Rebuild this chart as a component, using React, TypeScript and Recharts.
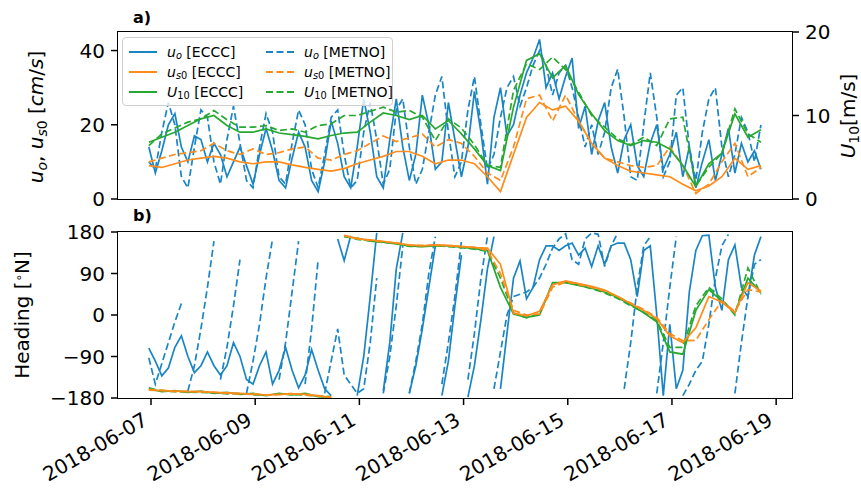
import React from 'react';
import { LineChart, Line, XAxis, YAxis } from 'recharts';

// hours since 2018-06-07 00:00; blue series every 3 h, smooth ones every 6 h
const T3_START = -1;
const T6_START = -1;

const DATE_LABELS = ['2018-06-07', '2018-06-09', '2018-06-11', '2018-06-13', '2018-06-15', '2018-06-17', '2018-06-19'];
const X_TICKS = [0, 48, 96, 144, 192, 240, 288];

// panel a) — current speed [cm/s]
const UO_ECCC = [
  14, 7, 13, 20, 23, 14, 10, 17,
  16, 10, 15, 12, 6, 10, 14, 9,
  4, 12, 19, 13, 5, 3, 11, 18,
  14, 5, 2, 10, 21, 15, 6, 3,
  14, 27, 18, 6, 3, 16, 27, 14,
  5, 12, 28, 20, 8, 10, 26, 16,
  6, 14, 29, 18, 4, 22, 30, 17,
  20, 28, 34, 38, 43, 30, 34, 27,
  33, 38, 19, 25, 12, 21, 26, 14,
  7, 16, 20, 9, 6, 15, 20, 8,
  12, 18, 6, 14, 3, 10, 16, 5,
  12, 19, 7, 15, 10, 13, 8,
];
const UO_METNO = [
  10, 8, 18, 26, 20, 6, 3, 14,
  24, 22, 10, 4, 16, 25, 15, 5,
  3, 14, 23, 18, 6, 4, 15, 24,
  20, 8, 3, 12, 22, 24, 12, 3,
  5, 18, 26, 16, 4, 8, 24, 27,
  14, 4, 8, 18, 28, 33, 18, 6,
  10, 24, 33, 20, 8, 12, 22, 30,
  33, 25, 30, 36, 40, 36, 28, 34,
  36, 30, 22, 14, 20, 12, 18, 30,
  35, 22, 6, 5, 20, 34, 22, 6,
  10, 28, 30, 14, 5, 18, 27, 30,
  14, 6, 12, 22, 18, 10, 20,
];
const US0_ECCC = [
  9, 8.5, 9.5, 10.5, 11, 11.5, 11, 10, 9.5, 10, 10, 9.2,
  8.5, 8, 7.5, 8.2, 9.5, 10.5, 11.5, 12.8, 12.8, 11.5, 9.5, 10.5,
  10.5, 9.5, 6, 2, 12, 22, 26, 24, 25, 21, 15, 11,
  9, 7.5, 7, 6.5, 6, 4, 2.2, 3.5, 6, 11, 8, 9,
];
const US0_METNO = [
  10, 11, 12, 12.5, 13, 15, 13, 12, 13.5, 12, 12.5, 13.5,
  14, 11, 10.5, 12, 13, 15, 17, 15.5, 16.5, 17.5, 14, 16,
  15, 11.5, 7, 5, 14, 27, 28, 21, 28, 21, 15, 11,
  10, 9, 8.5, 9, 14, 9, 1.5, 4, 10, 15, 6, 8.5,
];
// wind speed [m/s]
const U10_ECCC = [
  6.8, 7.4, 8, 8.8, 9.6, 10, 8.8, 8, 8, 8.4, 7.9, 7.7,
  7.5, 7.2, 7.6, 7.9, 8, 9.2, 10.3, 10, 9.5, 10, 8.4, 9.4,
  7.8, 6, 4, 3.4, 11, 16.6, 17.4, 14.5, 16, 12.5, 10.2, 8.2,
  7, 6.4, 7, 6.8, 6, 4, 1.5, 4.2, 5.5, 10.2, 7.4, 8.3,
];
const U10_METNO = [
  6.4, 7.8, 8.5, 9.2, 9.6, 10.6, 9.5, 8.6, 8.6, 8.8, 8.2, 8.4,
  8, 8.8, 9, 10, 10, 10.5, 11, 10.4, 10.6, 9.8, 7, 9.6,
  8.5, 6.5, 4, 3.8, 13, 16.2, 15.5, 17, 15.5, 12.8, 10, 8.6,
  7.2, 6.5, 7.4, 6.4, 9.6, 9.8, 1.6, 3.8, 5.5, 10.8, 7.8, 6.8,
];

// panel b) — heading [deg N]
const HD_UO_ECCC = [
  -72, -100, -132, -115, -70, -45, -90, -125,
  -110, -80, -110, -130, -110, -60, -90, -140,
  -150, -110, -80, -150, -120, -70, -120, -158,
  -130, -75, -120, -160, -175, 165, 118, 172,
  -175, -90, 40, 178, -165, -60, 100, 178,
  -170, -110, -30, 60, 150, -175, -100, 20,
  130, -178, -110, -10, 100, 170, -160, -40,
  80, 117, 35, 60, 120, 150, 150, 140,
  150, 156, 130, 145, 105, 150, 110, 150,
  156, 156, 120, 40, 140, 150, 0, -175,
  -20, -160, -120, 50, 140, 172, 173, 60,
  10, 120, 152, 60, 40, 130, 170,
];
const HD_UO_METNO = [
  -93, -150, -105, -60, -15, 25, -165, -110,
  -30, 60, 160, -140, -70, 20, 120, -170,
  -100, -20, 80, 165, -140, -60, 50, 160,
  -150, -30, 120, -170, -100, -30, -130, -150,
  -170, -160, -60, 80, -170, -90, 20, 150,
  -170, -100, -20, 90, 170, -150, -60, 40,
  160, -140, -40, 80, 170, -160, -80, 0,
  40, 45, 50, 60, 80, 110, 145, 165,
  176, 120, 110, 165, 178, 175, 105, 150,
  178, -160, -60, 60, 150, 170, -170, -60,
  60, 170, -175, -150, -120, -100, -20, 80,
  150, 175, -170, -60, 40, 110, 120,
];
const HD_US0_ECCC = [
  -163, -164, -165, -166, -166, -168, -169, -170, -172, -173, -172, -171,
  -172, -175, -179, 173, 165, 163, 160, 156, 152, 150, 152, 151,
  149, 146, 145, 110, 4, -2, 8, 65, 74, 68, 62, 54,
  40, 25, 10, -8, -45, -60, -28, 40, 28, 5, 70, 52,
];
const HD_US0_METNO = [
  -162, -163, -166, -165, -167, -167, -170, -171, -171, -174, -173, -170,
  -173, -176, -178, 172, 166, 162, 158, 157, 151, 151, 151, 150,
  148, 147, 140, 90, 10, 0, 2, 60, 72, 66, 60, 52,
  40, 26, 12, -5, -40, -56, -55, -10, 30, 8, 55, 50,
];
const HD_U10_ECCC = [
  -160, -166, -164, -168, -165, -170, -168, -172, -170, -175, -170, -173,
  -170, -177, -178, 170, 167, 160, 158, 154, 150, 148, 150, 150,
  147, 144, 140, 60, 2, -5, 0, 70, 70, 64, 58, 50,
  38, 22, 5, -15, -80, -85, 10, 55, 30, 5, 80, 48,
];
const HD_U10_METNO = [
  -158, -165, -166, -167, -168, -169, -171, -170, -173, -174, -171, -172,
  -174, -176, -177, 171, 164, 161, 157, 155, 149, 149, 151, 148,
  146, 143, 138, 80, 4, -6, 3, 68, 71, 65, 57, 48,
  36, 20, 6, -12, -70, -70, 20, 60, 35, 0, 102, 45,
];

const FONT = '"DejaVu Sans", Verdana, sans-serif';
const BLUE = '#1a85c4';
const ORANGE = '#ff8c1a';
const GREEN = '#27a830';
const DASH = '7 3.5';
const LW = 1.7;
const X_DOMAIN: [number, number] = [-15.2, 295.3];

type Pt = { h: number; v: number | null };

// heading wraps at +-180: break the line instead of drawing across the panel
function toPoints(start: number, step: number, vals: number[], wrap = false): Pt[] {
  const out: Pt[] = [];
  vals.forEach((v, i) => {
    const h = start + step * i;
    if (wrap && i > 0 && Math.abs(v - vals[i - 1]) > 180) out.push({ h: h - step / 2, v: null });
    out.push({ h, v });
  });
  return out;
}

const tickStyle = { fill: '#000', fontSize: 20, fontFamily: FONT };
const minus = (v: number) => (v < 0 ? `\u2212${-v}` : `${v}`);

function DateTick({ x, y, payload }: any) {
  const label = DATE_LABELS[Math.round(payload.value / 48)];
  const ax = x - 2;
  const ay = y + 17;
  return (
    <text x={ax} y={ay} transform={`rotate(-30 ${ax} ${ay})`} textAnchor="end" fontSize={20} fontFamily={FONT} fill="#000">
      {label}
    </text>
  );
}

const legendItems = [
  { color: BLUE, dash: false, name: <><i>u</i><sub><i>o</i></sub> [ECCC]</> },
  { color: ORANGE, dash: false, name: <><i>u</i><sub><i>s</i>0</sub> [ECCC]</> },
  { color: GREEN, dash: false, name: <><i>U</i><sub>10</sub> [ECCC]</> },
  { color: BLUE, dash: true, name: <><i>u</i><sub><i>o</i></sub> [METNO]</> },
  { color: ORANGE, dash: true, name: <><i>u</i><sub><i>s</i>0</sub> [METNO]</> },
  { color: GREEN, dash: true, name: <><i>U</i><sub>10</sub> [METNO]</> },
];

const subStyle = `sub{font-size:70%;vertical-align:-0.25em;line-height:0}sup{font-size:60%;vertical-align:0.5em;line-height:0}`;

function Frame({ top, height }: { top: number; height: number }) {
  return (
    <div
      style={{
        position: 'absolute', left: 117, top: top - 1, width: 676, height: height + 2,
        border: '1.6px solid #000', boxSizing: 'border-box', pointerEvents: 'none',
      }}
    />
  );
}

function VLabel({ x, y, children }: { x: number; y: number; children: React.ReactNode }) {
  return (
    <div
      style={{
        position: 'absolute', left: x, top: y, transform: 'translate(-50%, -50%) rotate(-90deg)',
        whiteSpace: 'nowrap', fontSize: 20, fontFamily: FONT, lineHeight: 1,
      }}
    >
      {children}
    </div>
  );
}

export default function App() {
  const lineProps = { type: 'linear' as const, dataKey: 'v', dot: false, isAnimationActive: false, strokeWidth: LW, activeDot: false };
  return (
    <div style={{ position: 'absolute', left: 0, top: 0, width: 861, height: 492, background: '#fff', fontFamily: FONT }}>
      <style>{subStyle}</style>
      <div style={{ position: 'absolute', left: 0, top: 0 }}>
        <LineChart width={861} height={215} margin={{ top: 32, right: 0, bottom: 0, left: 0 }}>
          <XAxis type="number" dataKey="h" domain={X_DOMAIN} ticks={X_TICKS} allowDataOverflow
            tick={false} tickSize={7} height={16} axisLine={false} stroke="#000" tickLine={{ strokeWidth: 1.5 }} />
          <YAxis yAxisId="l" domain={[0, 45]} ticks={[0, 20, 40]} width={118} tickSize={7} tickMargin={6}
            axisLine={false} stroke="#000" tickLine={{ strokeWidth: 1.5 }} tick={tickStyle} allowDataOverflow />
          <YAxis yAxisId="r" orientation="right" domain={[0, 20]} ticks={[0, 10, 20]} width={69} tickSize={7} tickMargin={6}
            axisLine={false} stroke="#000" tickLine={{ strokeWidth: 1.5 }} tick={tickStyle} allowDataOverflow />
          <Line {...lineProps} yAxisId="l" data={toPoints(T3_START, 3, UO_ECCC)} stroke={BLUE} />
          <Line {...lineProps} yAxisId="l" data={toPoints(T3_START, 3, UO_METNO)} stroke={BLUE} strokeDasharray={DASH} />
          <Line {...lineProps} yAxisId="l" data={toPoints(T6_START, 6, US0_ECCC)} stroke={ORANGE} />
          <Line {...lineProps} yAxisId="l" data={toPoints(T6_START, 6, US0_METNO)} stroke={ORANGE} strokeDasharray={DASH} />
          <Line {...lineProps} yAxisId="r" data={toPoints(T6_START, 6, U10_ECCC)} stroke={GREEN} />
          <Line {...lineProps} yAxisId="r" data={toPoints(T6_START, 6, U10_METNO)} stroke={GREEN} strokeDasharray={DASH} />
        </LineChart>
      </div>
      <div style={{ position: 'absolute', left: 0, top: 215 }}>
        <LineChart width={861} height={277} margin={{ top: 17, right: 69, bottom: 0, left: 0 }}>
          <XAxis type="number" dataKey="h" domain={X_DOMAIN} ticks={X_TICKS} allowDataOverflow
            tick={<DateTick />} tickSize={7} height={94} axisLine={false} stroke="#000" tickLine={{ strokeWidth: 1.5 }} />
          <YAxis domain={[-180, 180]} ticks={[-180, -90, 0, 90, 180]} width={118} tickSize={7} tickMargin={6}
            tickFormatter={minus} axisLine={false} stroke="#000" tickLine={{ strokeWidth: 1.5 }} tick={tickStyle} allowDataOverflow />
          <Line {...lineProps} data={toPoints(T3_START, 3, HD_UO_ECCC, true)} stroke={BLUE} />
          <Line {...lineProps} data={toPoints(T3_START, 3, HD_UO_METNO, true)} stroke={BLUE} strokeDasharray={DASH} />
          <Line {...lineProps} data={toPoints(T6_START, 6, HD_U10_ECCC, true)} stroke={GREEN} />
          <Line {...lineProps} data={toPoints(T6_START, 6, HD_U10_METNO, true)} stroke={GREEN} strokeDasharray={DASH} />
          <Line {...lineProps} data={toPoints(T6_START, 6, HD_US0_ECCC, true)} stroke={ORANGE} />
          <Line {...lineProps} data={toPoints(T6_START, 6, HD_US0_METNO, true)} stroke={ORANGE} strokeDasharray={DASH} />
        </LineChart>
      </div>

      <Frame top={32} height={167} />
      <Frame top={232} height={166} />

      <div style={{ position: 'absolute', left: 133, top: 8, fontSize: 16, fontWeight: 'bold' }}>a)</div>
      <div style={{ position: 'absolute', left: 133, top: 206, fontSize: 16, fontWeight: 'bold' }}>b)</div>

      <VLabel x={36} y={117}>
        <i>u</i><sub><i>o</i></sub>, <i>u</i><sub><i>s</i>0</sub> [<i>cm</i>/<i>s</i>]
      </VLabel>
      <VLabel x={848} y={116}>
        <i>U</i><sub>10</sub>[m/s]
      </VLabel>
      <VLabel x={22} y={315}>
        Heading [<sup>∘</sup>N]
      </VLabel>

      {/* legend */}
      <div
        style={{
          position: 'absolute', left: 122, top: 37, width: 271, height: 69, boxSizing: 'border-box',
          background: 'rgba(255,255,255,0.8)', border: '1px solid #d0d0d0', borderRadius: 4,
          display: 'grid', gridTemplateColumns: '137px 134px', gridAutoFlow: 'column', gridTemplateRows: 'repeat(3, 20px)',
          paddingTop: 4, fontSize: 14,
        }}
      >
        {legendItems.map((it, i) => (
          <div key={i} style={{ display: 'flex', alignItems: 'center', paddingLeft: 6 }}>
            <svg width={28} height={6} style={{ marginRight: 10, flexShrink: 0 }}>
              <line x1={0} y1={3} x2={28} y2={3} stroke={it.color} strokeWidth={2} strokeDasharray={it.dash ? '7 3.5' : undefined} />
            </svg>
            <span style={{ whiteSpace: 'nowrap' }}>{it.name}</span>
          </div>
        ))}
      </div>
    </div>
  );
}
